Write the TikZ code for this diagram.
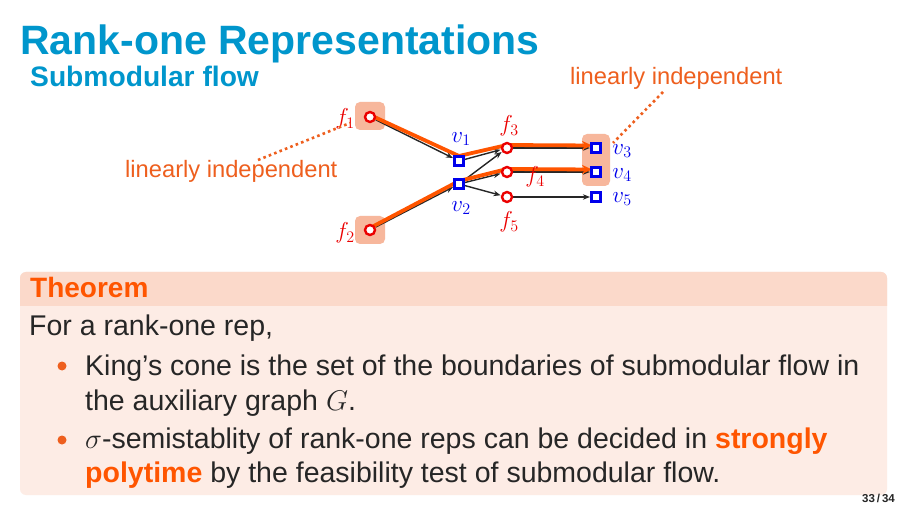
\RequirePackage{fix-cm}
\documentclass[tikz,border=0pt]{standalone}
\usepackage{fontspec}
\setmainfont{Liberation Sans}
\usetikzlibrary{arrows.meta}
\definecolor{titleblue}{RGB}{0,150,204}
\definecolor{hiorange}{RGB}{255,85,0}
\definecolor{labelorange}{RGB}{238,95,30}
\definecolor{barpeach}{RGB}{251,217,202}
\definecolor{bodypeach}{RGB}{253,236,229}
\definecolor{salmon}{RGB}{247,183,156}
\definecolor{nodered}{RGB}{235,0,0}
\definecolor{nodeblue}{RGB}{0,0,235}
\definecolor{textdark}{RGB}{38,38,38}
\pgfdeclarelayer{back}
\pgfdeclarelayer{mid}
\pgfsetlayers{back,mid,main}
\tikzset{
  fnode/.style={circle,draw=nodered,fill=white,line width=2.4pt,minimum size=10pt,inner sep=0pt},
  vnode/.style={rectangle,draw=nodeblue,fill=white,line width=2.2pt,minimum size=9pt,inner sep=0pt},
  flab/.style={text=nodered,inner sep=0pt,font=\fontsize{23}{25}\selectfont},
  vlab/.style={text=nodeblue,inner sep=0pt,font=\fontsize{23}{25}\selectfont},
  hibox/.style={fill=salmon,rounded corners=5pt,inner sep=0pt},
  edge/.style={draw=black!85,line width=1.4pt,-{Stealth[length=7pt,width=5.5pt]},shorten >=0.5pt},
  opath/.style={draw=hiorange,line width=3.8pt,line join=round,-{Stealth[length=10pt,width=9pt]}},
  dotline/.style={draw=labelorange,line width=2.6pt,dash pattern=on 2.6pt off 3.2pt},
  btext/.style={anchor=base west,inner sep=0pt,text=textdark,font=\fontsize{28.5}{34}\selectfont},
  bdot/.style={circle,fill=labelorange,inner sep=0pt,minimum size=9pt},
}
\begin{document}
\begin{tikzpicture}[x=1pt,y=-1pt]
\useasboundingbox (0,0) rectangle (907,510);
\begin{pgfonlayer}{back}
\fill[white] (0,0) rectangle (907,510);
\end{pgfonlayer}
% titles
\node[anchor=base west,inner sep=0pt,text=titleblue,font=\fontsize{41}{44}\selectfont\bfseries] (title) at (20,55) {Rank-one Representations};
\node[anchor=base west,inner sep=0pt,text=titleblue,font=\fontsize{28.2}{32}\selectfont\bfseries] (subtitle) at (30,87) {Submodular flow};
% highlight boxes
\begin{pgfonlayer}{back}
\node[hibox,minimum width=30pt,minimum height=28pt] (hf1) at (370,116) {};
\node[hibox,minimum width=30pt,minimum height=28pt] (hf2) at (370,230) {};
\node[hibox,minimum width=28pt,minimum height=52pt] (hv) at (596,160) {};
\end{pgfonlayer}
% nodes
\node[fnode] (f1) at (370,117) {};
\node[fnode] (f2) at (370,230) {};
\node[vnode] (v1) at (459,161) {};
\node[vnode] (v2) at (459,184) {};
\node[fnode] (f3) at (507,148) {};
\node[fnode] (f4) at (507,172) {};
\node[fnode] (f5) at (507,197) {};
\node[vnode] (v3) at (596,148) {};
\node[vnode] (v4) at (596,172) {};
\node[vnode] (v5) at (596,197) {};
% labels
\node[flab] (lf1) at (345,119) {$f_1$};
\node[flab] (lf2) at (345,233) {$f_2$};
\node[vlab] (lv1) at (461,139) {$v_1$};
\node[vlab] (lv2) at (461,208) {$v_2$};
\node[flab] (lf3) at (509,126) {$f_3$};
\node[flab] (lf4) at (535,177) {$f_4$};
\node[flab] (lf5) at (509,222) {$f_5$};
\node[vlab] (lv3) at (622,151) {$v_3$};
\node[vlab] (lv4) at (622,175) {$v_4$};
\node[vlab] (lv5) at (622,199) {$v_5$};
% black edges and orange paths
\begin{pgfonlayer}{mid}
\draw[edge] (f1) -- (v1);
\draw[edge] (f2) -- (v2);
\draw[edge] (v1) -- (f3);
\draw[edge] (v2) -- (f3);
\draw[edge] (v2) -- (f4);
\draw[edge] (v2) -- (f5);
\draw[edge] (f3) -- (v3);
\draw[edge] (f4) -- (v4);
\draw[edge] (f5) -- (v5);
\draw[opath] ([yshift=2pt]f1.center) -- ([yshift=5pt]v1.center) -- ([yshift=3pt]f3.center) -- ([yshift=2.5pt,xshift=-4pt]v3.center);
\draw[opath] ([yshift=2pt]f2.center) -- ([yshift=3pt]v2.center) -- ([yshift=3pt]f4.center) -- ([yshift=2.5pt,xshift=-4pt]v4.center);
\end{pgfonlayer}
% annotations
\node[anchor=base west,inner sep=0pt,text=labelorange,font=\fontsize{23.7}{28}\selectfont] (li1) at (125,178) {linearly independent};
\node[anchor=base west,inner sep=0pt,text=labelorange,font=\fontsize{23.7}{28}\selectfont] (li2) at (570,85) {linearly independent};
\coordinate (d1s) at (258,160);
\coordinate (d1e) at (350,123);
\coordinate (d2s) at (663,92);
\coordinate (d2e) at (613,143);
\draw[dotline] (d1s) -- (d1e);
\draw[dotline] (d2s) -- (d2e);
% theorem block
\fill[bodypeach,rounded corners=6pt] (20,272) rectangle (887,495);
\fill[barpeach] (20,306) {[rounded corners=6pt] -- (20,272) -- (887,272)} -- (887,306) -- cycle;
\node[anchor=base west,inner sep=0pt,text=hiorange,font=\fontsize{28}{30}\selectfont\bfseries] (thm) at (30,298) {Theorem};
\node[btext] (l1) at (29,336) {For a rank-one rep,};
\node[bdot] (b1) at (62,366) {};
\node[btext] (l2) at (85,375) {King’s cone is the set of the boundaries of submodular flow in};
\node[btext] (l3) at (85,410) {the auxiliary graph $G$.};
\node[bdot] (b2) at (62,440) {};
\node[btext] (l4) at (85,448) {$\sigma$-semistablity of rank-one reps can be decided in \textcolor{hiorange}{\bfseries strongly}};
\node[btext] (l5) at (85,482) {\textcolor{hiorange}{\bfseries polytime} by the feasibility test of submodular flow.};
\node[anchor=base east,inner sep=0pt,text=textdark,font=\fontsize{11.5}{13}\selectfont\bfseries] (pg) at (895,502) {33\,/\,34};
\end{tikzpicture}
\end{document}
